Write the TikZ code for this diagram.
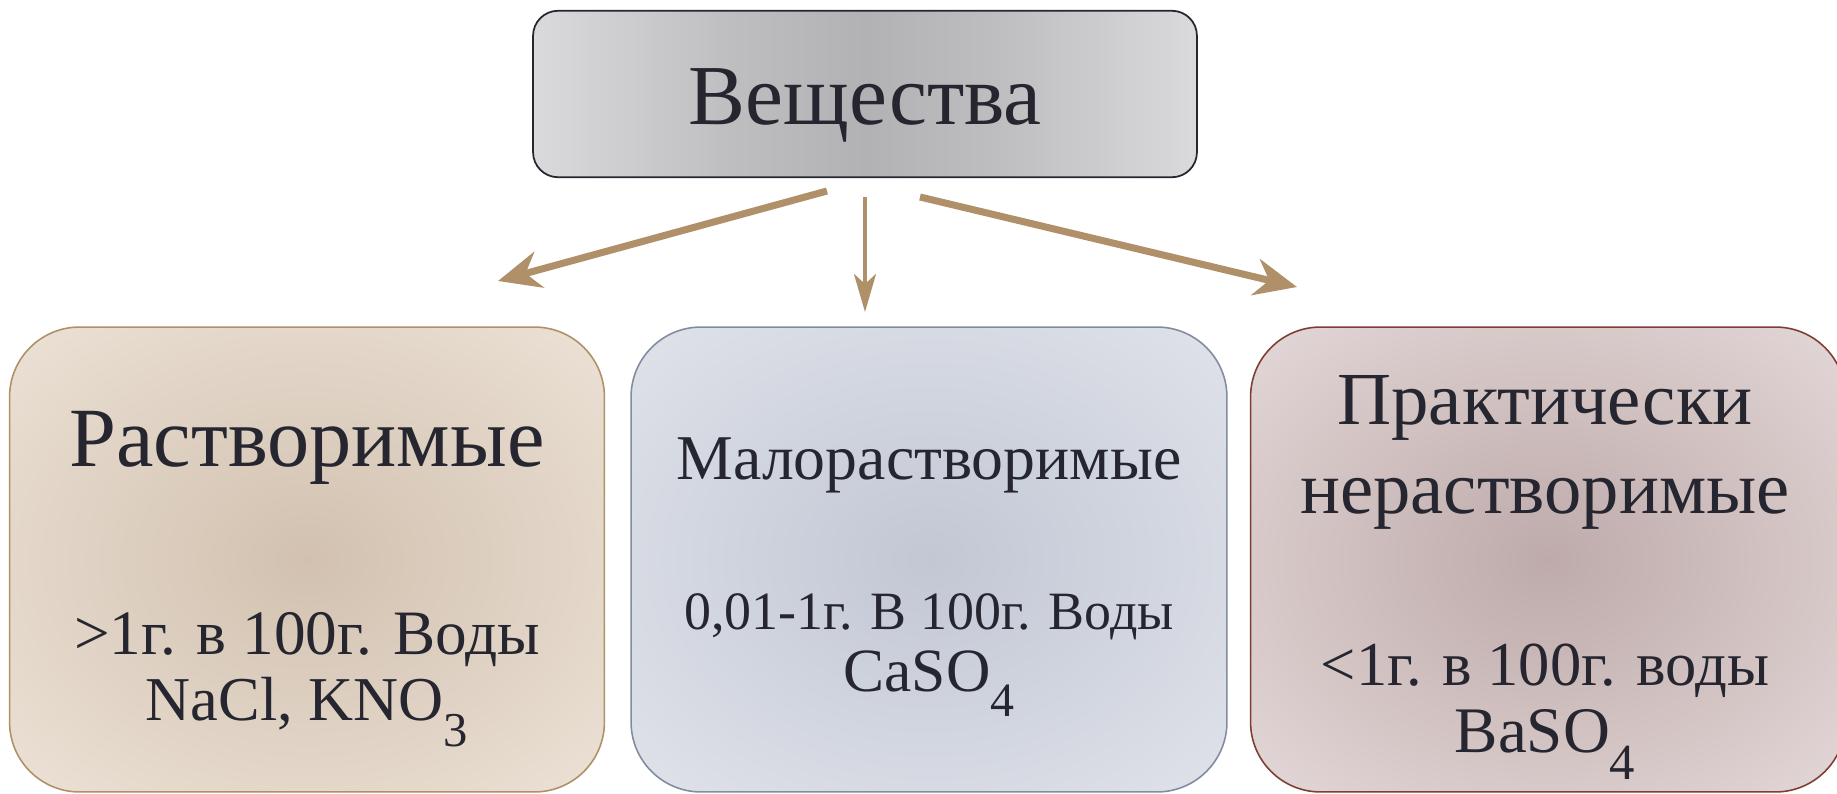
\documentclass[tikz,border=0pt]{standalone}
\usepackage{fontspec}
\usepackage{graphicx}
\setmainfont{Liberation Serif}
\usetikzlibrary{arrows.meta,positioning}
\definecolor{inkDark}{RGB}{38,38,48}
\definecolor{arrowTan}{RGB}{176,144,104}
\definecolor{solEdge}{RGB}{176,144,104}
\definecolor{solIn}{RGB}{210,193,176}
\definecolor{solOut}{RGB}{236,226,214}
\definecolor{lowEdge}{RGB}{130,140,160}
\definecolor{lowIn}{RGB}{194,199,212}
\definecolor{lowOut}{RGB}{224,227,234}
\definecolor{insEdge}{RGB}{125,62,52}
\definecolor{insIn}{RGB}{190,170,170}
\definecolor{insOut}{RGB}{228,216,216}
\definecolor{substIn}{RGB}{178,178,181}
\definecolor{substMid}{RGB}{190,190,193}
\definecolor{substOut}{RGB}{218,218,221}
\pgfdeclarehorizontalshading{substShade}{100bp}{color(0bp)=(substOut); color(25bp)=(substOut);
  color(40bp)=(substMid); color(50bp)=(substIn); color(60bp)=(substMid); color(75bp)=(substOut); color(100bp)=(substOut)}
\pgfdeclareradialshading{solShade}{\pgfpoint{0bp}{0bp}}{color(0bp)=(solIn); color(36bp)=(solOut); color(50bp)=(solOut)}
\pgfdeclareradialshading{lowShade}{\pgfpoint{0bp}{0bp}}{color(0bp)=(lowIn); color(36bp)=(lowOut); color(50bp)=(lowOut)}
\pgfdeclareradialshading{insShade}{\pgfpoint{0bp}{0bp}}{color(0bp)=(insIn); color(36bp)=(insOut); color(50bp)=(insOut)}
\newcommand{\chemsub}[1]{\raisebox{-0.42em}{\scalebox{0.78}{#1}}}
\newcommand{\fs}[1]{\fontsize{#1}{1.2\dimexpr#1\relax}\selectfont}

\begin{document}
\begin{tikzpicture}[x=0.02cm, y=-0.02cm,
  catbox/.style={rounded corners=1.4cm, line width=0.9pt, minimum width=11.9cm,
     minimum height=9.3cm, inner sep=0pt},
  lbl/.style={text=inkDark, inner sep=0pt, anchor=base},
  flow/.style={-{Stealth[length=0.85cm, width=0.74cm, inset=0.28cm]}, line width=4pt, arrowTan}]
  \useasboundingbox (0,0) rectangle (1837,794);
  \node[rounded corners=0.5cm, line width=1pt, draw=inkDark, shading=substShade,
     minimum width=13.28cm, minimum height=3.33cm] (subst) at (865,94) {};
  \node[catbox, draw=solEdge, shading=solShade] (sol) at (307,559.5) {};
  \node[catbox, draw=lowEdge, shading=lowShade, minimum width=11.92cm] (low) at (929,559.5) {};
  \node[catbox, draw=insEdge, shading=insShade] (ins) at (1548,559.5) {};

  \node[lbl, font=\fs{48.6pt}] (title) at (865,125) {Вещества};

  \node[lbl, font=\fs{48pt}] (solName) at (307,466) {Растворимые};
  \node[lbl, font=\fs{36pt}] (solRule) at (307,654) {>1г. в 100г. Воды};
  \node[lbl, font=\fs{35.5pt}] (solEx) at (307,720) {NaCl, KNO\chemsub{3}};

  \node[lbl, font=\fs{36.3pt}] (lowName) at (929,479) {Малорастворимые};
  \node[lbl, font=\fs{30.7pt}] (lowRule) at (929,629) {0,01-1г. В 100г. Воды};
  \node[lbl, font=\fs{35pt}] (lowEx) at (929,691) {CaSO\chemsub{4}};

  \node[lbl, font=\fs{42.6pt}] (insName) at (1545,424) {Практически};
  \node[lbl, font=\fs{42.5pt}] (insName2) at (1545,513) {нерастворимые};
  \node[lbl, font=\fs{35.6pt}] (insRule) at (1545,685) {<1г. в 100г. воды};
  \node[lbl, font=\fs{37pt}] (insEx) at (1545,752) {BaSO\chemsub{4}};

  \coordinate (toSolA) at (827,191);
  \coordinate (toSolB) at (498,281);
  \coordinate (toLowA) at (865,197);
  \coordinate (toLowB) at (865,312);
  \coordinate (toInsA) at (920,197);
  \coordinate (toInsB) at (1297,287);
  \draw[flow] (toSolA) -- (toSolB);
  \draw[flow, line width=2.2pt, -{Stealth[length=0.76cm, width=0.44cm, inset=0.2cm]}] (toLowA) -- (toLowB);
  \draw[flow] (toInsA) -- (toInsB);
\end{tikzpicture}
\end{document}
